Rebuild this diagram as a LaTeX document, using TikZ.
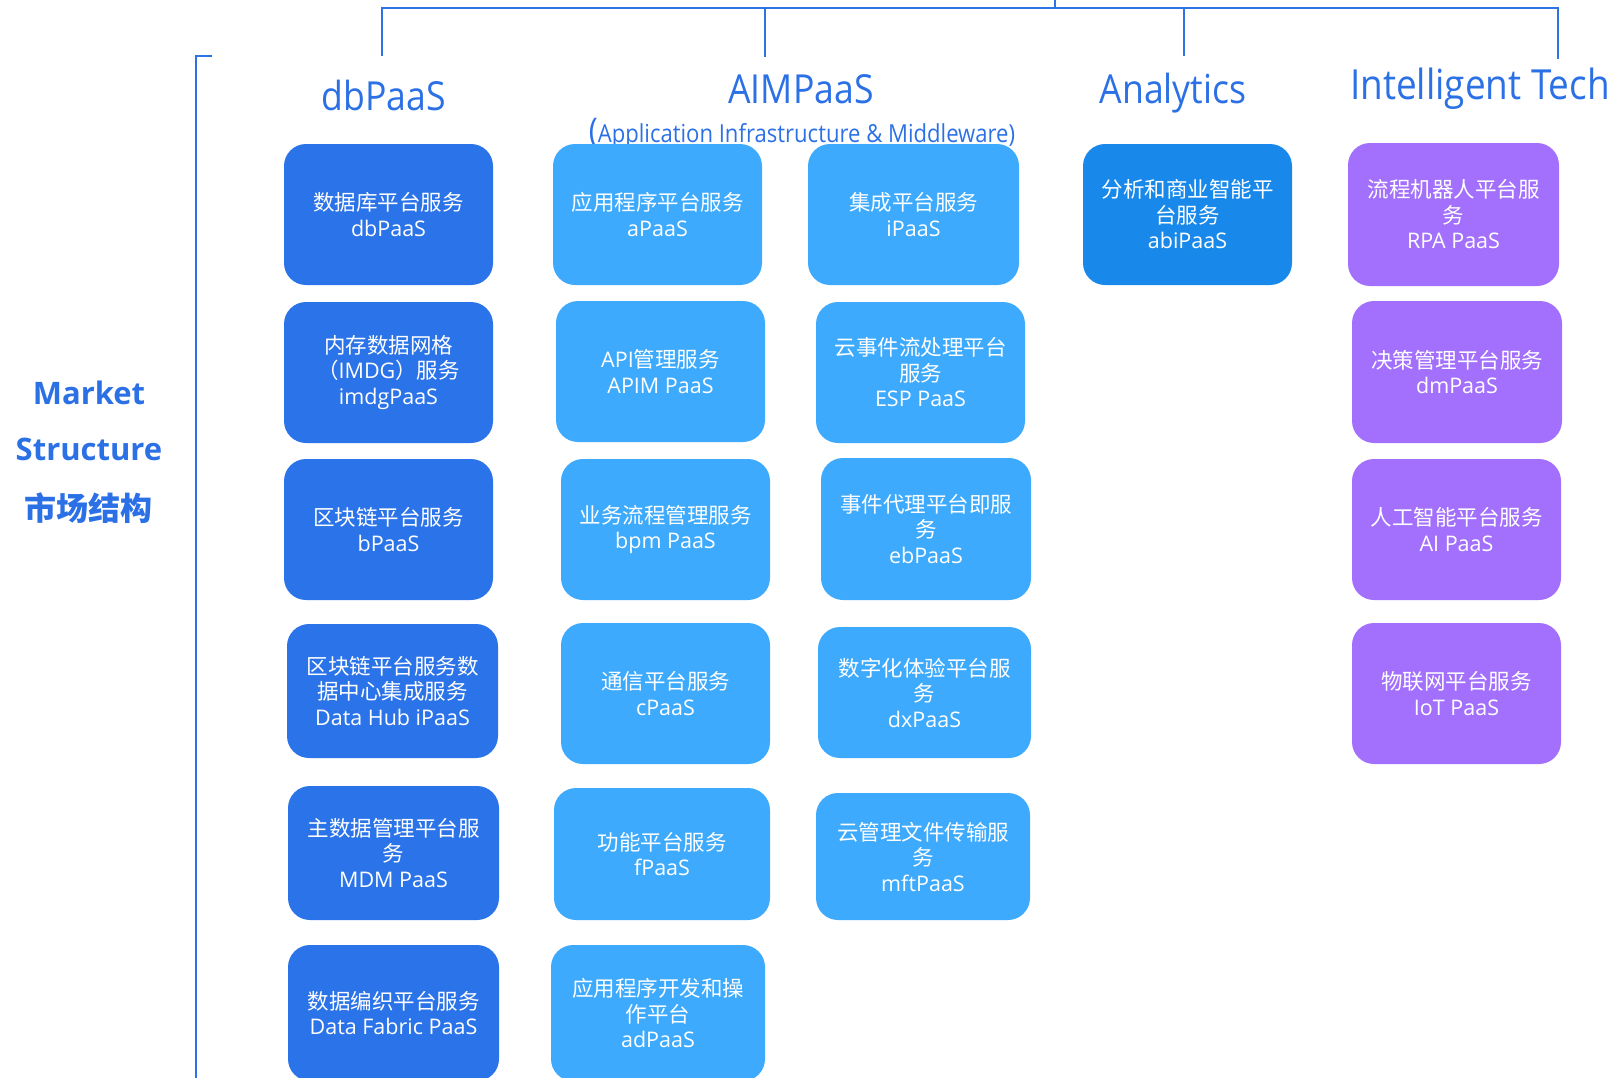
\documentclass[tikz,border=0pt]{standalone}
\usepackage{fontspec}
\setmainfont{Open Sans}
\newfontfamily\zhfont{Noto Sans CJK SC}
\newfontfamily\hdfont[FakeStretch=0.89]{Open Sans}
\newcommand\zh[1]{{\zhfont #1}}
\definecolor{cDark}{HTML}{2B73E8}
\definecolor{cLight}{HTML}{3DAAFD}
\definecolor{cAna}{HTML}{1889EA}
\definecolor{cPurple}{HTML}{A270FC}
\definecolor{cLine}{HTML}{2C74E6}
\definecolor{cHead}{HTML}{2B70E5}
\begin{document}
\begin{tikzpicture}[x=1pt,y=-1pt,
  box/.style={rounded corners=22pt, inner sep=0pt, text=white, align=center,
    font=\fontsize{21.5}{25.5}\selectfont},
  dbbox/.style={box, fill=cDark},
  aimbox/.style={box, fill=cLight},
  anabox/.style={box, fill=cAna},
  itbox/.style={box, fill=cPurple},
  sz/.style 2 args={minimum width=#1pt, minimum height=#2pt},
  head/.style={anchor=base, inner sep=0pt, text=cHead, font=\hdfont\fontsize{40}{40}\selectfont},
  sidelabel/.style={anchor=base, inner sep=0pt, text=cHead, font=\bfseries\fontsize{31}{31}\selectfont},
  bline/.style={draw=cLine, line width=2.5pt}
]
\useasboundingbox (0,0) rectangle (1614,1077);
\clip (0,0) rectangle (1614,1077);

% brackets
\coordinate (tL) at (382,8);
\coordinate (tR) at (1558,8);
\coordinate (hDb) at (382,56);
\coordinate (hAim) at (765,57);
\coordinate (tAim) at (765,8);
\coordinate (hAna) at (1184,56);
\coordinate (tAna) at (1184,8);
\coordinate (hIt) at (1558,59);
\coordinate (tick) at (1055,8);
\coordinate (tickTop) at (1055,-2);
\draw[bline] (hDb) -- (tL) -- (tR) -- (hIt);
\draw[bline] (tAim) -- (hAim);
\draw[bline] (tAna) -- (hAna);
\draw[bline] (tick) -- (tickTop);
\coordinate (lT) at (212,56);
\coordinate (lC) at (196,56);
\coordinate (lB) at (196,1090);
\draw[bline] (lT) -- (lC) -- (lB);

% side label
\node[sidelabel] (mk) at (89,404) {Market};
\node[sidelabel] (st) at (89,460) {Structure};
\node[text=cHead, inner sep=0pt, font=\zhfont\bfseries\fontsize{32}{32}\selectfont] (sc) at (88.5,508) {市场结构};

% headers
\node[head] (hdb) at (384,110) {dbPaaS};
\node[head] (haim) at (801,103) {AIMPaaS};
\node[anchor=base, inner sep=0pt, text=cHead, font=\hdfont\fontsize{24.8}{24.8}\selectfont] (hsub) at (802,142)
  {{\fontsize{34}{34}\selectfont(}Application Infrastructure \& Middleware)};
\node[head] (hana) at (1173,103) {Analytics};
\node[head, font=\hdfont\fontsize{41.5}{41.5}\selectfont] (hit) at (1480,99) {Intelligent Tech};

% dbPaaS column
\node[dbbox, sz={209}{141}] (a1) at (388.5,214.5) {\zh{数据库平台服务}\\dbPaaS};
\node[dbbox, sz={209}{141}] (a2) at (388.5,372.5) {\zh{内存数据网格}\\\zh{（}IMDG\zh{）服务}\\imdgPaaS};
\node[dbbox, sz={209}{141}] (a3) at (388.5,529.5) {\zh{区块链平台服务}\\bPaaS};
\node[dbbox, sz={211}{134}] (a4) at (392.5,691) {\zh{区块链平台服务数}\\\zh{据中心集成服务}\\Data Hub iPaaS};
\node[dbbox, sz={211}{134}] (a5) at (393.5,853) {\zh{主数据管理平台服}\\\zh{务}\\MDM PaaS};
\node[dbbox, sz={211}{136}] (a6) at (393.5,1013) {\zh{数据编织平台服务}\\Data Fabric PaaS};

% AIMPaaS left column
\node[aimbox, sz={209}{141}] (b1) at (657.5,214.5) {\zh{应用程序平台服务}\\aPaaS};
\node[aimbox, sz={209}{141}] (b2) at (660.5,371.5) {API\zh{管理服务}\\APIM PaaS};
\node[aimbox, sz={209}{141}] (b3) at (665.5,529.5) {\zh{业务流程管理服务}\\bpm PaaS};
\node[aimbox, sz={209}{141}] (b4) at (665.5,693.5) {\zh{通信平台服务}\\cPaaS};
\node[aimbox, sz={216}{132}] (b5) at (662,854) {\zh{功能平台服务}\\fPaaS};
\node[aimbox, sz={214}{136}] (b6) at (658,1013) {\zh{应用程序开发和操}\\\zh{作平台}\\adPaaS};

% AIMPaaS right column
\node[aimbox, sz={211}{141}] (c1) at (913.5,214.5) {\zh{集成平台服务}\\iPaaS};
\node[aimbox, sz={209}{141}] (c2) at (920.5,372.5) {\zh{云事件流处理平台}\\\zh{服务}\\ESP PaaS};
\node[aimbox, sz={210}{142}] (c3) at (926,529) {\zh{事件代理平台即服}\\\zh{务}\\ebPaaS};
\node[aimbox, sz={213}{131}] (c4) at (924.5,692.5) {\zh{数字化体验平台服}\\\zh{务}\\dxPaaS};
\node[aimbox, sz={214}{127}] (c5) at (923,856.5) {\zh{云管理文件传输服}\\\zh{务}\\mftPaaS};

% Analytics
\node[anabox, sz={209}{141}] (d1) at (1187.5,214.5) {\zh{分析和商业智能平}\\\zh{台服务}\\abiPaaS};

% Intelligent Tech
\node[itbox, sz={211}{143}] (e1) at (1453.5,214.5) {\zh{流程机器人平台服}\\\zh{务}\\RPA PaaS};
\node[itbox, sz={210}{142}] (e2) at (1457,372) {\zh{决策管理平台服务}\\dmPaaS};
\node[itbox, sz={209}{141}] (e3) at (1456.5,529.5) {\zh{人工智能平台服务}\\AI PaaS};
\node[itbox, sz={209}{141}] (e4) at (1456.5,693.5) {\zh{物联网平台服务}\\IoT PaaS};
\end{tikzpicture}
\end{document}
